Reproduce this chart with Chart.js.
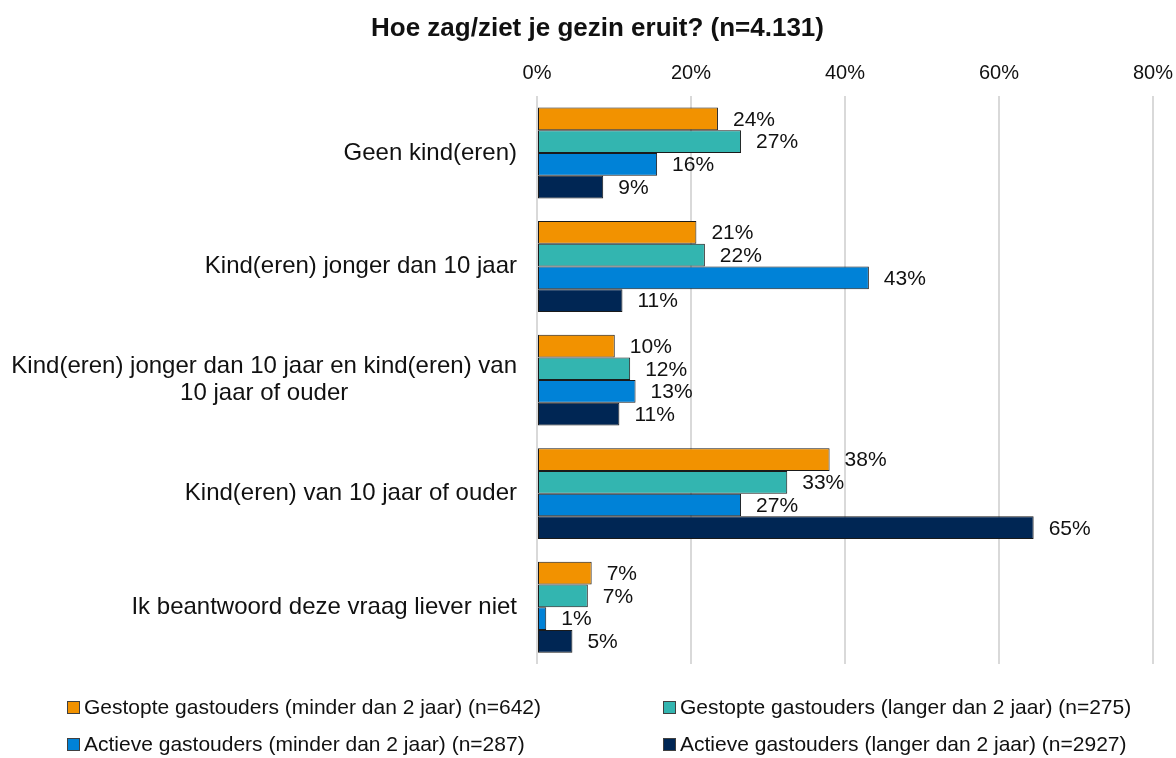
<!DOCTYPE html>
<html lang="nl">
<head>
<meta charset="UTF-8">
<title>Hoe zag/ziet je gezin eruit?</title>
<script src="https://cdn.jsdelivr.net/npm/chart.js"></script>
<style>
  body { margin: 0; background: #fff; font-family: "Liberation Sans", Arial, sans-serif; }
  .wrap { position: relative; width: 1176px; height: 758px; }
  #legend { position: absolute; left: 0; top: 0; width: 1176px; height: 758px; pointer-events: none; }
  .item { position: absolute; display: flex; align-items: center; font-size: 21px; color: #111; white-space: nowrap; }
  .box { width: 11px; height: 11px; border: 1px solid #404040; margin-right: 4px; }
</style>
</head>
<body>
<div class="wrap">
  <canvas id="chart" width="1176" height="758"></canvas>
  <div id="legend"></div>
</div>
<script>
// categorieën en reeksen
const categories = [
  'Geen kind(eren)',
  'Kind(eren) jonger dan 10 jaar',
  ['Kind(eren) jonger dan 10 jaar en kind(eren) van', '10 jaar of ouder'],
  'Kind(eren) van 10 jaar of ouder',
  'Ik beantwoord deze vraag liever niet'
];
const seriesNames = [
  'Gestopte gastouders (minder dan 2 jaar) (n=642)',
  'Gestopte gastouders (langer dan 2 jaar) (n=275)',
  'Actieve gastouders (minder dan 2 jaar) (n=287)',
  'Actieve gastouders (langer dan 2 jaar) (n=2927)'
];
const gestoptKort = [23.5, 20.7, 10.1, 38.0, 7.1];
const gestoptLang = [26.5, 21.8, 12.1, 32.5, 6.6];
const actiefKort  = [15.6, 43.1, 12.8, 26.5, 1.2];
const actiefLang  = [8.6, 11.1, 10.7, 64.5, 4.6];
const colors = ['#F29200', '#33B5B0', '#0082D7', '#002654'];
const xMax = 80;
const xStep = 20;

const FONT = '"Liberation Sans", Arial, sans-serif';
const TEXT = '#111';

// labels naast de balken
const valueLabels = {
  id: 'valueLabels',
  afterDatasetsDraw(chart) {
    const ctx = chart.ctx;
    ctx.save();
    ctx.font = '21px ' + FONT;
    ctx.fillStyle = TEXT;
    ctx.textBaseline = 'middle';
    ctx.textAlign = 'left';
    chart.data.datasets.forEach((ds, i) => {
      chart.getDatasetMeta(i).data.forEach((bar, j) => {
        ctx.fillText(Math.round(ds.data[j]) + '%', bar.x + 15, bar.y + 1);
      });
    });
    ctx.restore();
  }
};

// categorielabels (meerdere regels gecentreerd)
const catLabels = {
  id: 'catLabels',
  afterDraw(chart) {
    const ctx = chart.ctx;
    const y = chart.scales.y;
    const right = chart.chartArea.left - 20;
    const lh = 27;
    ctx.save();
    ctx.font = '24px ' + FONT;
    ctx.fillStyle = TEXT;
    ctx.textBaseline = 'middle';
    categories.forEach((c, i) => {
      const lines = Array.isArray(c) ? c : [c];
      const maxW = Math.max(...lines.map(l => ctx.measureText(l).width));
      const cy = y.getPixelForValue(i);
      const y0 = cy - (lines.length - 1) * lh / 2;
      ctx.textAlign = 'center';
      lines.forEach((l, k) => ctx.fillText(l, right - maxW / 2, y0 + k * lh));
    });
    ctx.restore();
  }
};

const ctx = document.getElementById('chart').getContext('2d');
const chart = new Chart(ctx, {
  type: 'bar',
  data: {
    labels: categories.map(c => Array.isArray(c) ? c.join(' ') : c),
    datasets: [gestoptKort, gestoptLang, actiefKort, actiefLang].map((d, i) => ({
      label: seriesNames[i],
      data: d,
      backgroundColor: colors[i],
      borderColor: '#1a1a1a',
      borderWidth: 1,
      borderSkipped: false,
      categoryPercentage: 0.8,
      barPercentage: 1.0
    }))
  },
  options: {
    indexAxis: 'y',
    responsive: false,
    animation: false,
    layout: { padding: { left: 42, right: 23, top: 0, bottom: 94 } },
    plugins: {
      legend: { display: false },
      tooltip: { enabled: false },
      title: {
        display: true,
        text: 'Hoe zag/ziet je gezin eruit? (n=4.131)',
        color: TEXT,
        font: { family: FONT, size: 26, weight: 'bold' },
        padding: { top: 13, bottom: 8 }
      }
    },
    scales: {
      x: {
        position: 'top',
        min: 0,
        max: xMax,
        ticks: {
          stepSize: xStep,
          color: TEXT,
          padding: 11,
          font: { family: FONT, size: 20 },
          callback: v => v + '%'
        },
        grid: { color: '#d9d9d9', lineWidth: 2, drawTicks: false },
        border: { display: false },
        afterFit: s => { s.height = 44; s.paddingLeft = 0; s.paddingRight = 0; }
      },
      y: {
        ticks: { display: false },
        grid: { display: false },
        border: { display: false },
        afterFit: s => { s.width = 537 - 42; }
      }
    }
  },
  plugins: [valueLabels, catLabels]
});

// legenda in twee kolommen
const legend = document.getElementById('legend');
const pos = [[67, 708], [663, 708], [67, 745], [663, 745]];
seriesNames.forEach((n, i) => {
  const el = document.createElement('div');
  el.className = 'item';
  el.style.left = pos[i][0] + 'px';
  el.style.top = (pos[i][1] - 13) + 'px';
  el.innerHTML = '<span class="box" style="background:' + colors[i] + '"></span>' + n;
  legend.appendChild(el);
});
</script>
</body>
</html>
